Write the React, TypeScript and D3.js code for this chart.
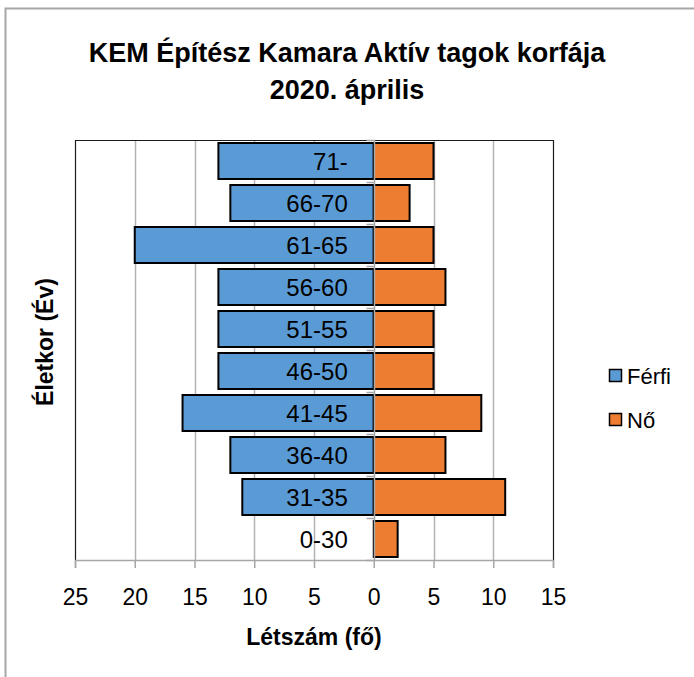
import React, { useEffect, useRef } from "react";
import * as d3 from "d3";

const ageGroups = ["71-", "66-70", "61-65", "56-60", "51-55", "46-50", "41-45", "36-40", "31-35", "0-30"];
const maleValues = [13, 12, 20, 13, 13, 13, 16, 12, 11, 0];
const femaleValues = [5, 3, 5, 6, 5, 5, 9, 6, 11, 2];
const xTicks = [-25, -20, -15, -10, -5, 0, 5, 10, 15];
const legendItems = [
  { name: "Férfi", color: "#5b9bd5" },
  { name: "Nő", color: "#ed7d31" },
];

const FONT = "'Liberation Sans', Arial, sans-serif";

const App: React.FC = () => {
  const ref = useRef<SVGSVGElement>(null);

  useEffect(() => {
    if (!ref.current) return;
    const svg = d3.select(ref.current);
    svg.selectAll("*").remove();

    const margin = { top: 140, left: 75, right: 553, bottom: 560 };

    const x = d3.scaleLinear().domain([-25, 15]).range([margin.left, margin.right]);
    const y = d3
      .scaleBand<string>()
      .domain(ageGroups)
      .range([margin.top, margin.bottom])
      .paddingInner(0.143)
      .paddingOuter(0.0715);

    // chart frame
    svg
      .append("path")
      .attr("d", `M5.5,677 V8.5 H694`)
      .attr("fill", "none")
      .attr("stroke", "#a6a6a6")
      .attr("stroke-width", 2);

    // title
    const title = svg
      .append("text")
      .attr("text-anchor", "middle")
      .attr("font-family", FONT)
      .attr("font-weight", "bold")
      .attr("font-size", 27)
      .attr("fill", "#000");
    title.append("tspan").attr("x", 347).attr("y", 62).text("KEM Építész Kamara Aktív tagok korfája");
    title.append("tspan").attr("x", 347).attr("y", 99).text("2020. április");

    // gridlines
    svg
      .append("g")
      .selectAll("line")
      .data(xTicks.filter((t) => t !== -25 && t !== 15 && t !== 0))
      .join("line")
      .attr("x1", (d) => Math.round(x(d)) + 0.5)
      .attr("x2", (d) => Math.round(x(d)) + 0.5)
      .attr("y1", margin.top)
      .attr("y2", margin.bottom)
      .attr("stroke", "#b3b3b3")
      .attr("stroke-width", 1.5);

    // plot border (left/right/top)
    svg
      .append("path")
      .attr(
        "d",
        `M${margin.left + 0.5},${margin.bottom} V${margin.top + 0.5} H${margin.right + 0.5} V${margin.bottom}`
      )
      .attr("fill", "none")
      .attr("stroke", "#1a1a1a")
      .attr("stroke-width", 1.2);

    // bars
    const bars = svg.append("g");
    bars
      .selectAll("rect.male")
      .data(ageGroups)
      .join("rect")
      .attr("class", "male")
      .attr("x", (_, i) => x(-maleValues[i]))
      .attr("y", (d) => y(d)!)
      .attr("width", (_, i) => x(0) - x(-maleValues[i]))
      .attr("height", y.bandwidth())
      .attr("fill", legendItems[0].color)
      .attr("stroke", (_, i) => (maleValues[i] > 0 ? "#000" : "none"))
      .attr("stroke-width", 2);
    bars
      .selectAll("rect.female")
      .data(ageGroups)
      .join("rect")
      .attr("class", "female")
      .attr("x", x(0))
      .attr("y", (d) => y(d)!)
      .attr("width", (_, i) => x(femaleValues[i]) - x(0))
      .attr("height", y.bandwidth())
      .attr("fill", legendItems[1].color)
      .attr("stroke", "#000")
      .attr("stroke-width", 2);

    // y axis at zero
    const zero = Math.round(x(0)) + 0.5;
    svg
      .append("line")
      .attr("x1", zero)
      .attr("x2", zero)
      .attr("y1", margin.top)
      .attr("y2", margin.bottom)
      .attr("stroke", "#a6a6a6")
      .attr("stroke-width", 1.5);
    const bounds = ageGroups.map((d) => y(d)! - (y.step() - y.bandwidth()) / 2).concat([margin.bottom]);
    svg
      .append("g")
      .selectAll("line")
      .data(bounds)
      .join("line")
      .attr("x1", zero - 8)
      .attr("x2", zero)
      .attr("y1", (d) => Math.round(d) + 0.5)
      .attr("y2", (d) => Math.round(d) + 0.5)
      .attr("stroke", "#a6a6a6")
      .attr("stroke-width", 1.5);

    // category labels
    svg
      .append("g")
      .selectAll("text")
      .data(ageGroups)
      .join("text")
      .attr("x", x(0) - 26)
      .attr("y", (d) => y(d)! + y.bandwidth() / 2)
      .attr("dy", "0.36em")
      .attr("text-anchor", "end")
      .attr("font-family", FONT)
      .attr("font-size", 24)
      .attr("fill", "#000")
      .text((d) => d);

    // x axis
    const xAxis = svg
      .append("g")
      .attr("transform", `translate(0,${margin.bottom})`)
      .call(
        d3
          .axisBottom(x)
          .tickValues(xTicks)
          .tickSize(8)
          .tickPadding(21)
          .tickFormat((d) => String(Math.abs(+d)))
      );
    xAxis.select(".domain").attr("stroke", "#a6a6a6").attr("stroke-width", 1.5);
    xAxis.selectAll(".tick line").attr("stroke", "#a6a6a6").attr("stroke-width", 1.5);
    xAxis
      .selectAll(".tick text")
      .attr("font-family", FONT)
      .attr("font-size", 23)
      .attr("fill", "#000");

    // axis titles
    svg
      .append("text")
      .attr("x", (margin.left + margin.right) / 2)
      .attr("y", 645)
      .attr("text-anchor", "middle")
      .attr("font-family", FONT)
      .attr("font-weight", "bold")
      .attr("font-size", 23)
      .text("Létszám (fő)");
    svg
      .append("text")
      .attr("transform", `translate(53,${(margin.top + margin.bottom) / 2 - 8}) rotate(-90)`)
      .attr("text-anchor", "middle")
      .attr("font-family", FONT)
      .attr("font-weight", "bold")
      .attr("font-size", 23)
      .text("Életkor (Év)");

    // legend
    const legend = svg
      .append("g")
      .selectAll("g")
      .data(legendItems)
      .join("g")
      .attr("transform", (_, i) => `translate(609,${369 + i * 44})`);
    legend
      .append("rect")
      .attr("x", 0.5)
      .attr("y", 0.5)
      .attr("width", 12)
      .attr("height", 12)
      .attr("fill", (d) => d.color)
      .attr("stroke", "#000")
      .attr("stroke-width", 1.5);
    legend
      .append("text")
      .attr("x", 18)
      .attr("y", 7)
      .attr("dy", "0.36em")
      .attr("font-family", FONT)
      .attr("font-size", 22)
      .text((d) => d.name);
  }, []);

  return (
    <svg
      ref={ref}
      width={694}
      height={677}
      style={{ position: "absolute", left: 0, top: 0, background: "#fff" }}
    />
  );
};

export default App;
